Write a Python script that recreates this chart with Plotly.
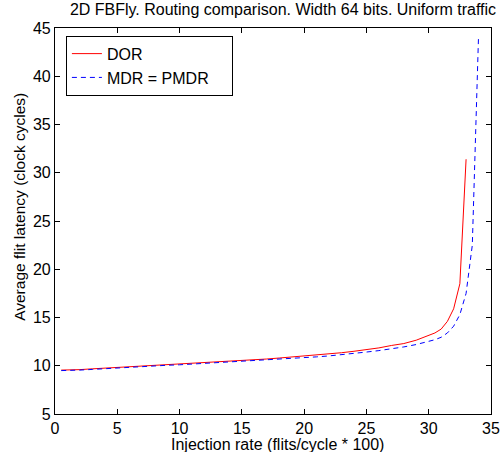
import plotly.graph_objects as go

x_dor = [0.5, 1, 2, 3, 4, 5, 6, 7, 8, 9, 10, 11, 12, 13, 14, 15, 16, 17, 18, 19, 20,
         21, 22, 23, 24, 25, 26, 27, 28, 29, 30, 30.5, 31, 31.5, 32, 32.5, 33]
y_dor = [9.55, 9.55, 9.6, 9.68, 9.75, 9.83, 9.9, 9.97, 10.03, 10.1, 10.15, 10.22, 10.3,
         10.37, 10.45, 10.52, 10.6, 10.7, 10.8, 10.9, 11.0, 11.1, 11.22, 11.35, 11.5,
         11.65, 11.85, 12.1, 12.3, 12.65, 13.1, 13.4, 13.8, 14.6, 15.9, 18.5, 31.4]

x_mdr = [0.5, 1, 2, 3, 4, 5, 6, 7, 8, 9, 10, 11, 12, 13, 14, 15, 16, 17, 18, 19, 20,
         21, 22, 23, 24, 25, 26, 27, 28, 29, 30, 30.5, 31, 31.5, 32, 32.5, 33, 33.5, 34]
y_mdr = [9.5, 9.5, 9.55, 9.62, 9.7, 9.78, 9.85, 9.92, 9.98, 10.05, 10.1, 10.17, 10.23,
         10.3, 10.36, 10.42, 10.5, 10.58, 10.67, 10.75, 10.83, 10.92, 11.02, 11.13,
         11.27, 11.42, 11.57, 11.73, 11.95, 12.2, 12.5, 12.7, 12.95, 13.4, 14.1, 15.3,
         17.5, 22.5, 44.2]

x_ticks = [0, 5, 10, 15, 20, 25, 30, 35]
y_ticks = [5, 10, 15, 20, 25, 30, 35, 40, 45]

series_names = ["DOR", "MDR = PMDR"]
title_text = "2D FBFly. Routing comparison. Width 64 bits. Uniform traffic"
x_label = "Injection rate (flits/cycle * 100)"
y_label = "Average flit latency (clock cycles)"

FONT = "Liberation Sans, Arial, Helvetica, sans-serif"
NBSP = "\u00a0"

fig = go.Figure()
fig.add_trace(go.Scatter(x=x_dor, y=y_dor, mode="lines", name=series_names[0],
                         line=dict(color="#ff0000", width=1)))
fig.add_trace(go.Scatter(x=x_mdr, y=y_mdr, mode="lines",
                         name=series_names[1] + NBSP * 4,
                         line=dict(color="#0000ff", width=1, dash="5px,4px")))

axis_common = dict(showline=True, linecolor="black", linewidth=1.2, mirror="ticks",
                   ticks="inside", ticklen=5, tickcolor="black", tickwidth=1,
                   showgrid=False, zeroline=False,
                   tickfont=dict(family=FONT, size=16, color="black"))

fig.update_xaxes(range=[0, 35], tickvals=x_ticks, ticktext=[str(v) for v in x_ticks],
                 **axis_common)
fig.update_yaxes(range=[5, 45], tickvals=y_ticks, ticktext=[str(v) for v in y_ticks],
                 **axis_common)

fig.update_layout(
    width=504, height=452,
    margin=dict(l=55, r=13, t=28, b=38, autoexpand=False),
    paper_bgcolor="white", plot_bgcolor="white",
    title=dict(text=title_text, x=0.5615, xanchor="center", y=0.992, yanchor="top",
               font=dict(family=FONT, size=16, color="black")),
    legend=dict(x=0.025, y=0.98, xanchor="left", yanchor="top",
                bordercolor="black", borderwidth=1, bgcolor="white",
                font=dict(family=FONT, size=16, color="black"),
                itemwidth=30, tracegroupgap=0),
    showlegend=True,
    annotations=[
        dict(text=x_label, xref="paper", yref="paper", x=(277 - 55) / 436, y=-0.053,
             xanchor="center", yanchor="top", showarrow=False,
             font=dict(family=FONT, size=16, color="black")),
        dict(text=y_label, xref="paper", yref="paper", x=-0.083, y=(414 - 207) / 386,
             xanchor="center", yanchor="middle", showarrow=False, textangle=-90,
             font=dict(family=FONT, size=15.5, color="black")),
    ],
)

fig.write_html("out.html")
